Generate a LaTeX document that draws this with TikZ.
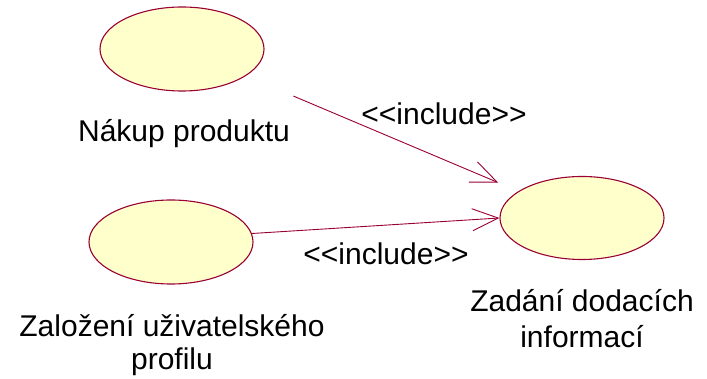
\documentclass[tikz,border=0pt]{standalone}
\usepackage{fontspec}
\setmainfont{Liberation Sans}[Ligatures=TeXOff]
\usetikzlibrary{shapes.geometric,arrows.meta}

\definecolor{roseline}{RGB}{153,0,51}
\definecolor{rosefill}{RGB}{255,255,204}

\begin{document}
\begin{tikzpicture}[
    x=1pt, y=-1pt,
    usecase/.style={ellipse, draw=roseline, line width=1.1pt, fill=rosefill, minimum width=164pt, minimum height=84pt, inner sep=0pt},
    caption/.style={font=\fontsize{30}{33}\selectfont, align=center, inner sep=0pt},
    stereo/.style={font=\fontsize{30}{33}\selectfont, inner sep=0pt},
    include/.style={-{Straight Barb[length=26pt, width=22pt]}, roseline, line width=0.9pt}
]
\useasboundingbox[fill=white] (0,0) rectangle (707,379);

% === Use cases ===
\node[usecase] (nakup) at (182,49) {};
\node[usecase] (zalozeni) at (171,242) {};
\node[usecase, minimum height=83pt] (zadani) at (582,218) {};

% === Names below the use cases ===
\node[caption, anchor=base] (nakupLbl) at (184,142) {Nákup produktu};
\node[caption, anchor=base] (zalozeniLbl) at (172,370) {Založení uživatelského\\profilu};
\node[caption, anchor=base, font=\fontsize{30}{36}\selectfont] (zadaniLbl) at (582,348) {Zadání dodacích\\informací};

% === Include relations ===
\draw[include, shorten <=121pt, shorten >=91pt] (nakup.center) -- (zadani.center);
\draw[include] (zalozeni.6) -- (zadani.west);

% Stereotypes
\node[stereo, anchor=base] (inc1) at (444,125) {<<include>>};
\node[stereo, anchor=base] (inc2) at (386,265) {<<include>>};

\end{tikzpicture}
\end{document}
